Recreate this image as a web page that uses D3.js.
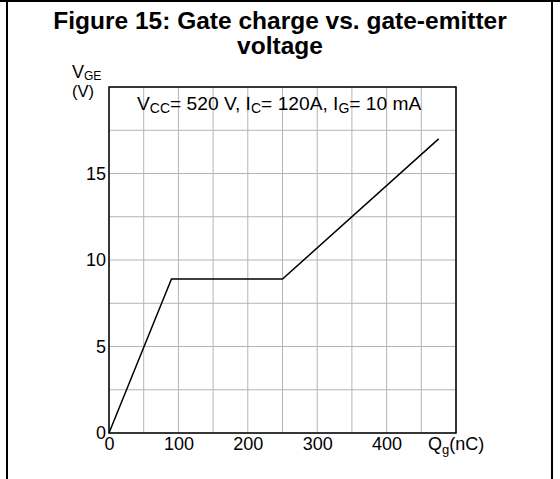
<!DOCTYPE html>
<html>
<head>
<meta charset="utf-8">
<script src="https://cdn.jsdelivr.net/npm/d3@7"></script>
<style>
  body { margin: 0; background: #fff; }
  svg { display: block; font-family: Arial, "Liberation Sans", sans-serif; }
</style>
</head>
<body>
<div id="chart"></div>
<script>
// gate charge curve (nC, V)
const qg = [0, 90, 250, 475];
const vge = [0, 8.9, 8.9, 17];
const xTicks = [0, 100, 200, 300, 400];
const yTicks = [0, 5, 10, 15];
const xGrid = d3.range(0, 501, 50);
const yGrid = d3.range(0, 20.1, 2.5);

const width = 560, height = 479;
const margin = {top: 87, right: 104, bottom: 46, left: 109};
const font = 'Arial, "Liberation Sans", sans-serif';

const svg = d3.select('#chart').append('svg')
    .attr('width', width)
    .attr('height', height);

// page frame (table cell borders)
svg.append('line').attr('x1', 0).attr('x2', width).attr('y1', 1).attr('y2', 1)
    .attr('stroke', '#000').attr('stroke-width', 2);
svg.append('line').attr('x1', 7).attr('x2', 7).attr('y1', 0).attr('y2', height)
    .attr('stroke', '#000').attr('stroke-width', 2);
svg.append('line').attr('x1', 552).attr('x2', 552).attr('y1', 0).attr('y2', height)
    .attr('stroke', '#000').attr('stroke-width', 2);

// title
svg.append('text')
    .attr('x', 280).attr('y', 29)
    .attr('text-anchor', 'middle')
    .attr('font-weight', 'bold').attr('font-size', 24.5)
    .text('Figure 15: Gate charge vs. gate-emitter');
svg.append('text')
    .attr('x', 280).attr('y', 54)
    .attr('text-anchor', 'middle')
    .attr('font-weight', 'bold').attr('font-size', 24.5)
    .text('voltage');

const x = d3.scaleLinear().domain([0, 500]).range([margin.left, width - margin.right]);
const y = d3.scaleLinear().domain([0, 20]).range([height - margin.bottom, margin.top]);

// grid
svg.append('g').selectAll('line').data(xGrid).enter().append('line')
    .attr('x1', d => x(d)).attr('x2', d => x(d))
    .attr('y1', y(0)).attr('y2', y(20))
    .attr('stroke', '#b4b4b4').attr('stroke-width', 1);
svg.append('g').selectAll('line').data(yGrid).enter().append('line')
    .attr('x1', x(0)).attr('x2', x(500))
    .attr('y1', d => y(d)).attr('y2', d => y(d))
    .attr('stroke', '#b4b4b4').attr('stroke-width', 1);

// frame
svg.append('rect')
    .attr('x', x(0)).attr('y', y(20))
    .attr('width', x(500) - x(0)).attr('height', y(0) - y(20))
    .attr('fill', 'none').attr('stroke', '#000').attr('stroke-width', 1.5);

// axes labels
const xAxis = d3.axisBottom(x).tickValues(xTicks).tickSize(0).tickPadding(4);
const gx = svg.append('g')
    .attr('transform', 'translate(0,' + y(0) + ')')
    .call(xAxis);
gx.select('.domain').remove();
gx.selectAll('text').attr('font-size', 18).attr('fill', '#000').attr('font-family', font);

const yAxis = d3.axisLeft(y).tickValues(yTicks).tickSize(0).tickPadding(3);
const gy = svg.append('g')
    .attr('transform', 'translate(' + x(0) + ',0)')
    .call(yAxis);
gy.select('.domain').remove();
gy.selectAll('text').attr('font-size', 18).attr('fill', '#000').attr('font-family', font);

// curve
const line = d3.line()
    .x((d, i) => x(d))
    .y((d, i) => y(vge[i]));
svg.append('path')
    .datum(qg)
    .attr('d', line)
    .attr('fill', 'none')
    .attr('stroke', '#000')
    .attr('stroke-width', 1.5);

// axis titles
const qLab = svg.append('text').attr('x', 428).attr('y', 450).attr('font-size', 18);
qLab.append('tspan').text('Q');
qLab.append('tspan').attr('font-size', 13).attr('dy', 4).text('g');
qLab.append('tspan').attr('dy', -4).text('(nC)');

const vLab = svg.append('text').attr('x', 72).attr('y', 78).attr('font-size', 18);
vLab.append('tspan').text('V');
vLab.append('tspan').attr('font-size', 12).attr('dy', 1.5).text('GE');
svg.append('text').attr('x', 72).attr('y', 97).attr('font-size', 16.5).text('(V)');

// conditions
const ann = svg.append('text').attr('x', 137).attr('y', 110).attr('font-size', 19.2);
ann.append('tspan').text('V');
ann.append('tspan').attr('font-size', 14).attr('dy', 3).text('CC');
ann.append('tspan').attr('dy', -3).text('= 520 V, I');
ann.append('tspan').attr('font-size', 14).attr('dy', 3).text('C');
ann.append('tspan').attr('dy', -3).text('= 120A, I');
ann.append('tspan').attr('font-size', 14).attr('dy', 3).text('G');
ann.append('tspan').attr('dy', -3).text('= 10 mA');
</script>
</body>
</html>
